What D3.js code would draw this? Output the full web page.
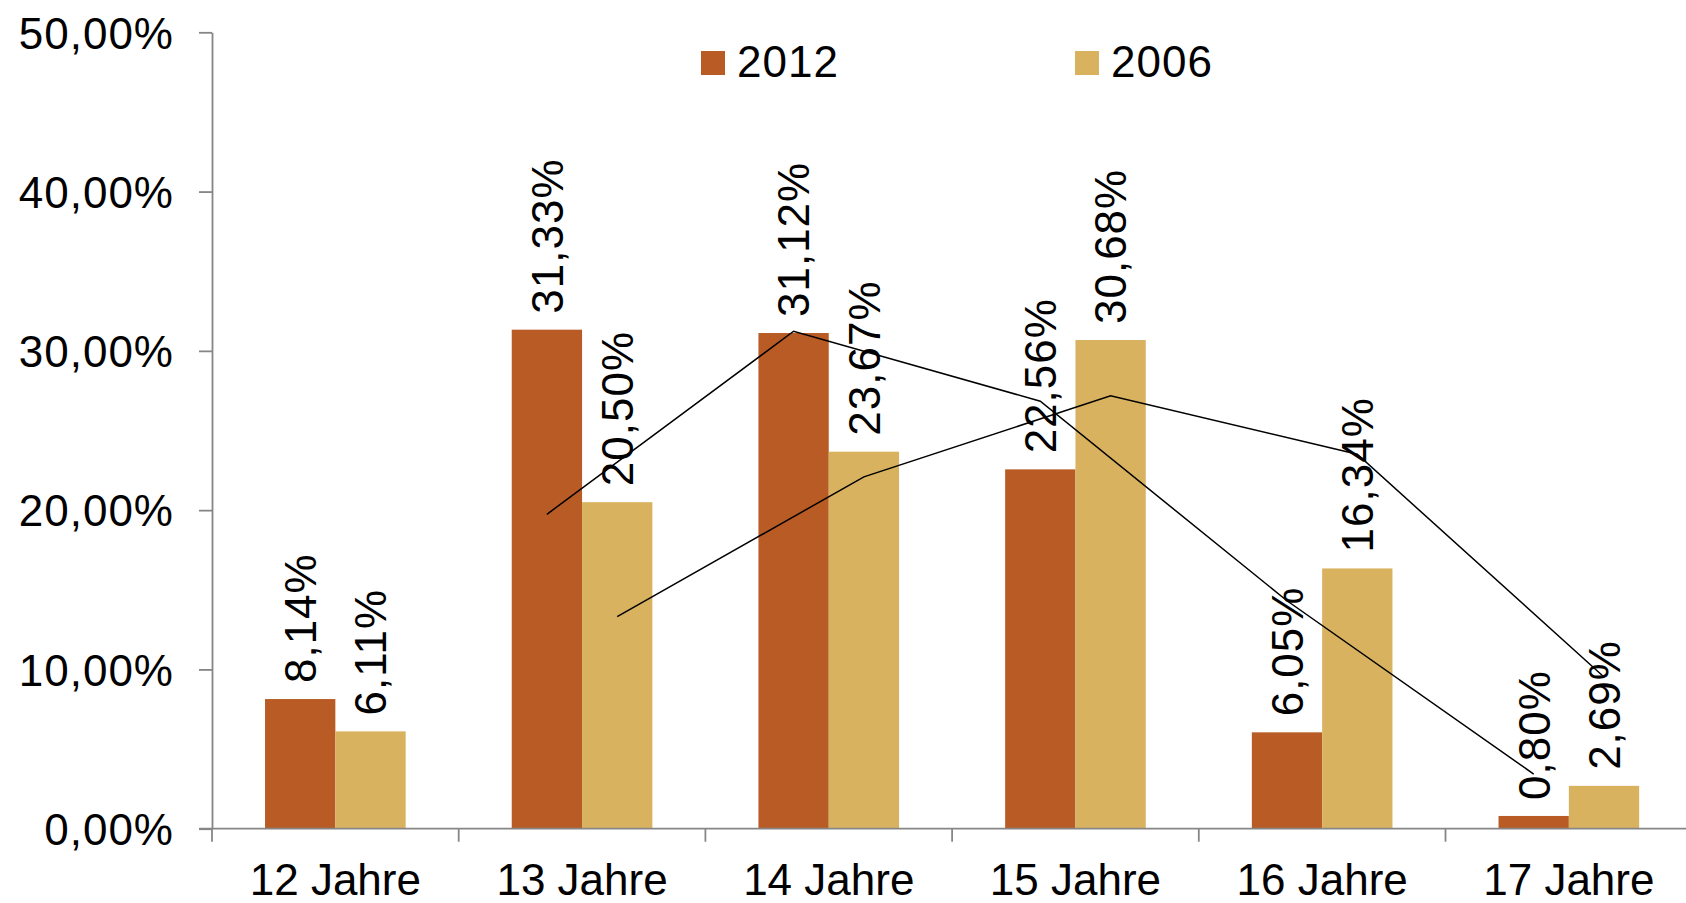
<!DOCTYPE html>
<html>
<head>
<meta charset="utf-8">
<script src="https://cdn.jsdelivr.net/npm/d3@7"></script>
<style>
	body { margin: 0; background: #fff; }
	text { font-family: "Liberation Sans", Arial, sans-serif; fill: #000; }
	.axis path, .axis line { stroke: #868686; stroke-width: 1.8; }
	.trend { fill: none; stroke: #000; stroke-width: 1.5; }
	.num { letter-spacing: 1px; }
</style>
</head>
<body>
<script>
// chart values
const categories = ["12 Jahre", "13 Jahre", "14 Jahre", "15 Jahre", "16 Jahre", "17 Jahre"];
const seriesNames = ["2012", "2006"];
const values2012 = [8.14, 31.33, 31.12, 22.56, 6.05, 0.80];
const values2006 = [6.11, 20.50, 23.67, 30.68, 16.34, 2.69];
// moving average trend lines, they start at the second category
const trendCategories = ["13 Jahre", "14 Jahre", "15 Jahre", "16 Jahre", "17 Jahre"];
const trend2012 = [19.74, 31.23, 26.84, 14.31, 3.43];
const trend2006 = [13.31, 22.09, 27.18, 23.51, 9.52];
const yTicks = [0, 10, 20, 30, 40, 50];

const colors = {"2012": "#B95B25", "2006": "#D8B25F"};

let width = 1686, height = 903;
let plot = {left: 212, right: 1692.2, top: 32.3, bottom: 828.7};

let de = d3.formatLocale({decimal: ",", thousands: ".", grouping: [3], currency: ["", " €"]});
let pct = function(v) { return de.format(".2f")(v) + "%"; };

let xScale = d3.scaleBand()
	.domain(categories)
	.range([plot.left, plot.right])
	.paddingInner(0.43)
	.paddingOuter(0.215);

let xSeries = d3.scaleBand()
	.domain(seriesNames)
	.range([0, xScale.bandwidth()]);

let yScale = d3.scaleLinear().domain([0, 50]).range([plot.bottom, plot.top]);

let svg = d3.select("body").append("svg")
	.attr("width", width)
	.attr("height", height);

let rows = categories.map(function(c, i) {
	return {cat: c, values: [{s: "2012", v: values2012[i]}, {s: "2006", v: values2006[i]}]};
});

// y axis
svg.append("g")
	.attr("class", "axis")
	.attr("transform", "translate(" + plot.left + ",0)")
	.call(d3.axisLeft(yScale)
		.tickValues(yTicks)
		.tickSize(13)
		.tickSizeOuter(0)
		.tickPadding(25)
		.tickFormat(pct))
	.selectAll("text")
		.attr("class", "num")
		.style("font-size", "44px")
		.attr("dy", "0.36em");

// bars
let groups = svg.selectAll(".cat")
		.data(rows)
	.enter().append("g")
		.attr("class", "cat")
		.attr("transform", function(d) { return "translate(" + xScale(d.cat) + ",0)"; });

groups.selectAll("rect")
		.data(function(d) { return d.values; })
	.enter().append("rect")
		.attr("x", function(d) { return xSeries(d.s); })
		.attr("width", xSeries.bandwidth())
		.attr("y", function(d) { return yScale(d.v); })
		.attr("height", function(d) { return yScale(0) - yScale(d.v); })
		.attr("fill", function(d) { return colors[d.s]; });

// x axis line and category boundary ticks
let xAxis = svg.append("g").attr("class", "axis");
xAxis.append("line")
	.attr("x1", plot.left - 13).attr("x2", plot.right)
	.attr("y1", plot.bottom).attr("y2", plot.bottom);
xAxis.selectAll(".btick")
		.data(categories.concat(["end"]))
	.enter().append("line")
		.attr("x1", function(d, i) { return plot.left + i * xScale.step(); })
		.attr("x2", function(d, i) { return plot.left + i * xScale.step(); })
		.attr("y1", plot.bottom)
		.attr("y2", plot.bottom + 13);

// category labels (cut by the bottom edge, like the original)
svg.selectAll(".catlabel")
		.data(categories)
	.enter().append("text")
		.attr("x", function(d) { return xScale(d) + xScale.bandwidth() / 2; })
		.attr("y", plot.bottom + 66)
		.attr("text-anchor", "middle")
		.style("font-size", "44px")
		.text(function(d) { return d; });

// data labels, rotated
groups.selectAll(".vlabel")
		.data(function(d) { return d.values; })
	.enter().append("text")
		.attr("class", "num")
		.attr("transform", function(d) {
			return "translate(" + (xSeries(d.s) + xSeries.bandwidth() / 2) + "," + (yScale(d.v) - 16) + ") rotate(-90)";
		})
		.attr("dy", "0.36em")
		.style("font-size", "44px")
		.text(function(d) { return pct(d.v); });

// trend lines
let trendLine = function(s) {
	return d3.line()
		.x(function(d) { return xScale(d.cat) + xSeries(s) + xSeries.bandwidth() / 2; })
		.y(function(d) { return yScale(d.v); });
};
let t2012 = trendCategories.map(function(c, i) { return {cat: c, v: trend2012[i]}; });
let t2006 = trendCategories.map(function(c, i) { return {cat: c, v: trend2006[i]}; });

svg.append("path").datum(t2012).attr("class", "trend").attr("d", trendLine("2012"));
svg.append("path").datum(t2006).attr("class", "trend").attr("d", trendLine("2006"));

// legend
let legendX = {"2012": 701, "2006": 1075};
let legend = svg.selectAll(".legend")
		.data(seriesNames)
	.enter().append("g")
		.attr("transform", function(d) { return "translate(" + legendX[d] + ",51)"; });
legend.append("rect")
	.attr("width", 24).attr("height", 24)
	.attr("fill", function(d) { return colors[d]; });
legend.append("text")
	.attr("class", "num")
	.attr("x", 36).attr("y", 26)
	.style("font-size", "44px")
	.text(function(d) { return d; });
</script>
</body>
</html>
